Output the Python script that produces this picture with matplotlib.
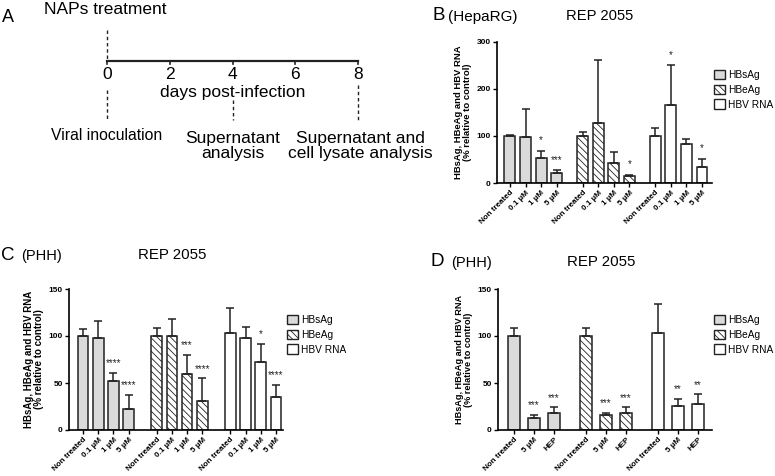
import matplotlib
matplotlib.use("Agg")
import matplotlib.pyplot as plt
from matplotlib.patches import Patch
from matplotlib.transforms import ScaledTranslation
import numpy as np

plt.rcParams['font.family'] = ['Liberation Sans', 'DejaVu Sans']
plt.rcParams['hatch.linewidth'] = 0.6

series = ["HBsAg", "HBeAg", "HBV RNA"]

# Panel B (HepaRG)
b_labels = ["Non treated", "0.1 µM", "1 µM", "5 µM"]
b_vals = [[100, 98, 53, 22], [100, 127, 43, 14], [100, 167, 82, 35]]
b_errs = [[2, 60, 15, 5], [8, 135, 22, 3], [17, 83, 11, 16]]
b_stars = [["", "", "*", "***"], ["", "", "", "*"], ["", "*", "", "*"]]

# Panel C (PHH)
c_labels = ["Non treated", "0.1 µM", "1 µM", "5 µM"]
c_vals = [[100, 98, 52, 22], [100, 100, 60, 31], [103, 98, 72, 35]]
c_errs = [[7, 18, 9, 15], [9, 18, 20, 24], [27, 12, 20, 13]]
c_stars = [["", "", "****", "****"], ["", "", "***", "****"], ["", "", "*", "****"]]

# Panel D (PHH)
d_labels = ["Non treated", "5 µM", "HEP"]
d_vals = [[100, 13, 18], [100, 16, 18], [103, 26, 28]]
d_errs = [[8, 3, 6], [8, 2, 6], [31, 7, 10]]
d_stars = [["", "***", "***"], ["", "***", "***"], ["", "**", "**"]]

W, H = 775, 476
fig = plt.figure(figsize=(W / 100, H / 100), dpi=100)

def px_axes(x0, y0, x1, y1):
    return fig.add_axes([x0 / W, 1 - y1 / H, (x1 - x0) / W, (y1 - y0) / H])

styles = [dict(facecolor="#dadada", hatch=None),
          dict(facecolor="white", hatch="\\\\\\\\\\"),
          dict(facecolor="white", hatch=None)]

def bar_panel(ax, labels, vals, errs, stars, gap, width, xlim, ymax, ystep, star_off,
              ylabel_size):
    n = len(labels)
    ticks, ticklabels = [], []
    for g in range(3):
        pos = np.arange(n) + g * gap
        st = styles[g]
        ax.bar(pos, vals[g], width=width, facecolor=st["facecolor"], hatch=st["hatch"],
               edgecolor="#222222", linewidth=1.1, zorder=2)
        ax.errorbar(pos, vals[g], yerr=[np.zeros(n), errs[g]], fmt="none",
                    ecolor="#222222", elinewidth=1.1, capsize=3, capthick=1.1, zorder=3)
        for p, v, e, s in zip(pos, vals[g], errs[g], stars[g]):
            if s:
                ax.text(p, v + e + star_off, s, ha="center", va="bottom", fontsize=7,
                        color="#222222")
        ticks.extend(pos)
        ticklabels.extend(labels)
    ax.set_xlim(*xlim)
    ax.set_ylim(0, ymax)
    ax.set_yticks(np.arange(0, ymax + 1, ystep))
    ax.set_xticks(ticks)
    ax.set_xticklabels(ticklabels, rotation=45, ha="right", rotation_mode="anchor",
                       fontsize=5.8, fontweight="bold")
    off = ScaledTranslation(1.5 / 72, 0, fig.dpi_scale_trans)
    for lab in ax.get_xticklabels():
        lab.set_transform(lab.get_transform() + off)
    for lab in ax.get_yticklabels():
        lab.set_fontweight("bold")
        lab.set_fontsize(6)
    ax.spines["top"].set_visible(False)
    ax.spines["right"].set_visible(False)
    ax.spines["left"].set_linewidth(1.2)
    ax.spines["bottom"].set_linewidth(1.2)
    ax.tick_params(axis="both", length=3, width=1.0, pad=1.5)
    ax.set_ylabel("HBsAg, HBeAg and HBV RNA\n(% relative to control)", fontsize=ylabel_size,
                  fontweight="bold", labelpad=3, linespacing=1.1)

def legend(x, y):
    handles = [Patch(facecolor=styles[i]["facecolor"], hatch=styles[i]["hatch"],
                     edgecolor="#222222", linewidth=1.0) for i in range(3)]
    fig.legend(handles, series, loc="upper left", bbox_to_anchor=(x / W, 1 - y / H),
               frameon=False, fontsize=7.3, handlelength=1.05, handleheight=1.05,
               handletextpad=0.3, labelspacing=0.45, borderaxespad=0, borderpad=0)

# Panel A timeline
axA = fig.add_axes([0, 0, 1, 1])
axA.set_xlim(0, W)
axA.set_ylim(H, 0)
axA.axis("off")
days = [0, 2, 4, 6, 8]
x0, x8, yl = 107, 358, 61
dx = lambda d: x0 + (x8 - x0) * d / 8
axA.plot([dx(0), dx(8)], [yl, yl], color="#222222", lw=1.6)
for d in days:
    axA.plot([dx(d), dx(d)], [yl, yl + 3], color="#222222", lw=1.2)
    axA.text(dx(d), yl + 6, str(d), ha="center", va="top", fontsize=12.5)
axA.text(dx(4), 93, "days post-infection", ha="center", va="center", fontsize=12.5)
dash = dict(color="#222222", lw=1.0, ls=(0, (2.5, 2)))
axA.plot([dx(0), dx(0)], [30, yl], **dash)
axA.plot([dx(0), dx(0)], [90, 120], **dash)
axA.plot([dx(4), dx(4)], [100, 120], **dash)
axA.plot([dx(8), dx(8)], [85, 120], **dash)
axA.text(2, 18, "A", fontsize=13, ha="left", va="center")
axA.text(44, 9, "NAPs treatment", fontsize=12.5, ha="left", va="center")
axA.text(dx(0), 136, "Viral inoculation", fontsize=11.3, ha="center", va="center")
axA.text(dx(4), 146, "Supernatant\nanalysis", fontsize=12.5, ha="center", va="center",
         linespacing=1.05)
axA.text(dx(8) + 2, 146, "Supernatant and\ncell lysate analysis", fontsize=12.5,
         ha="center", va="center", linespacing=1.05)
# Panel titles
axA.text(433, 16, "B", fontsize=13.5, ha="left", va="center")
axA.text(448, 17, "(HepaRG)", fontsize=11, ha="left", va="center")
axA.text(600, 16, "REP 2055", fontsize=10.6, ha="center", va="center")
axA.text(1, 255, "C", fontsize=13.5, ha="left", va="center")
axA.text(21, 256, "(PHH)", fontsize=10.5, ha="left", va="center")
axA.text(172, 255, "REP 2055", fontsize=10.8, ha="center", va="center")
axA.text(431, 262, "D", fontsize=13.5, ha="left", va="center")
axA.text(451, 263, "(PHH)", fontsize=10.5, ha="left", va="center")
axA.text(601, 262, "REP 2055", fontsize=10.8, ha="center", va="center")

# Panel B
axB = px_axes(497, 42, 712, 183)
bar_panel(axB, b_labels, b_vals, b_errs, b_stars, gap=4.65, width=0.7,
          xlim=(-0.83, 12.94), ymax=300, ystep=100, star_off=12, ylabel_size=6.8)
legend(714, 70)

# Panel C
axC = px_axes(69, 289, 283, 430)
bar_panel(axC, c_labels, c_vals, c_errs, c_stars, gap=4.85, width=0.7,
          xlim=(-0.92, 13.16), ymax=150, ystep=50, star_off=5, ylabel_size=7.0)
legend(287, 315)

# Panel D
axD = px_axes(498, 289, 712, 430)
bar_panel(axD, d_labels, d_vals, d_errs, d_stars, gap=3.6, width=0.63,
          xlim=(-0.8, 9.9), ymax=150, ystep=50, star_off=5, ylabel_size=6.6)
legend(714, 315)

fig.savefig("out.png", dpi=100)
